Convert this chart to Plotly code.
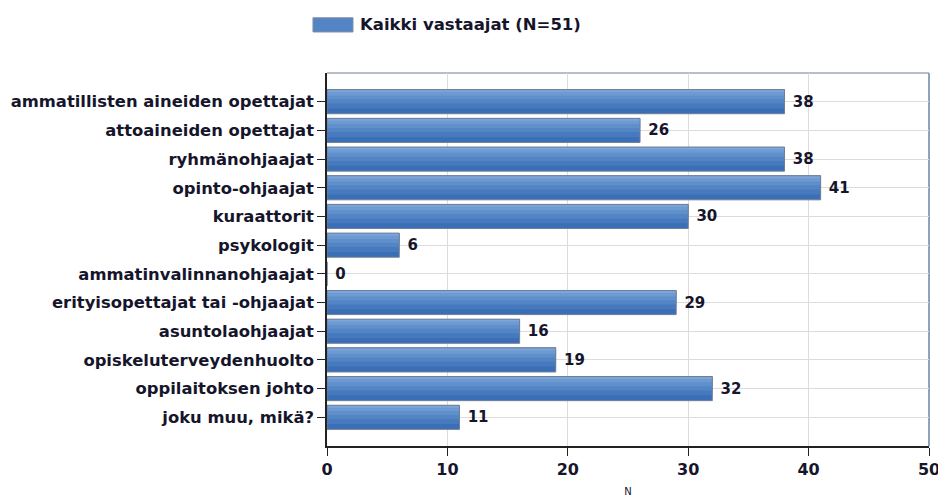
import plotly.graph_objects as go

# Data
categories = [
    "ammatillisten aineiden opettajat",
    "attoaineiden opettajat",
    "ryhmänohjaajat",
    "opinto-ohjaajat",
    "kuraattorit",
    "psykologit",
    "ammatinvalinnanohjaajat",
    "erityisopettajat tai -ohjaajat",
    "asuntolaohjaajat",
    "opiskeluterveydenhuolto",
    "oppilaitoksen johto",
    "joku muu, mikä?",
]
counts = [38, 26, 38, 41, 30, 6, 0, 29, 16, 19, 32, 11]
series_name = "Kaikki vastaajat (N=51)"
x_ticks = [0, 10, 20, 30, 40, 50]

TEXT = "#15152b"
FONT = "DejaVu Sans"
BAR_W = 0.84
BODY_MARGIN = 8  # default page margin of the html body shifts the figure

fig = go.Figure()

# Stacked stripes (dark -> light, bottom -> top) to fake the glossy gradient
stripes = [
    (1.00, "#3a6fb5"),
    (0.78, "#4679bd"),
    (0.58, "#5385c5"),
    (0.40, "#6090cc"),
    (0.24, "#6e9ad2"),
    (0.10, "#7ca5d9"),
]
for frac, color in stripes:
    fig.add_trace(go.Bar(
        y=categories,
        x=counts,
        orientation="h",
        width=BAR_W * frac,
        offset=-BAR_W / 2,
        marker=dict(color=color, line=dict(width=0)),
        showlegend=False,
        hoverinfo="skip",
    ))

# Outline + value labels
fig.add_trace(go.Bar(
    y=categories,
    x=counts,
    orientation="h",
    name=series_name,
    width=BAR_W,
    offset=-BAR_W / 2,
    marker=dict(color="rgba(0,0,0,0)", line=dict(color="#6f7f96", width=1)),
    text=counts,
    texttemplate=" %{text}",
    textposition="outside",
    textfont=dict(family=FONT, size=15, color=TEXT, weight="bold"),
    cliponaxis=False,
    showlegend=False,
))

fig.update_layout(
    width=946 - BODY_MARGIN,
    height=499 - BODY_MARGIN,
    barmode="overlay",
    paper_bgcolor="white",
    plot_bgcolor="white",
    font=dict(family=FONT, size=13, color=TEXT),
    margin=dict(l=327 - BODY_MARGIN, r=17, t=73 - BODY_MARGIN, b=53, autoexpand=False),
    showlegend=False,
)

fig.update_xaxes(
    range=[0, 50],
    tickvals=x_ticks,
    showgrid=True,
    gridcolor="#dcdcdc",
    zeroline=False,
    showline=True,
    linecolor="#222222",
    linewidth=1.5,
    ticks="outside",
    ticklen=8,
    tickcolor="#222222",
    tickfont=dict(family=FONT, size=16, color=TEXT, weight="bold"),
    title=dict(text="N", font=dict(family=FONT, size=10, color=TEXT), standoff=10),
)

fig.update_yaxes(
    categoryorder="array",
    categoryarray=categories,
    autorange=False,
    range=[len(categories), -1],
    showgrid=True,
    gridcolor="#dcdcdc",
    zeroline=False,
    showline=True,
    linecolor="#222222",
    linewidth=1.5,
    ticks="outside",
    ticklen=8,
    tickcolor="#222222",
    tickfont=dict(family=FONT, size=16.4, color=TEXT, weight="bold"),
)

# Grey frame on top and a blue-grey one on the right of the plot area
fig.add_shape(type="line", xref="paper", yref="paper", x0=0, x1=1, y0=1, y1=1,
              line=dict(color="#a0a8b4", width=1.5), layer="below")
fig.add_shape(type="line", xref="paper", yref="paper", x0=1, x1=1, y0=0, y1=1,
              line=dict(color="#8ea2ba", width=2), layer="below")

# Legend: wide swatch plus bold label
fig.add_shape(type="rect", xref="paper", yref="paper",
              x0=-0.0233, x1=0.0432, y0=1.110, y1=1.148,
              line=dict(color="#7f8fa6", width=1), fillcolor="#5385c5")
fig.add_annotation(text=series_name, xref="paper", yref="paper",
                   x=0.052, y=1.129, xanchor="left", yanchor="middle",
                   showarrow=False,
                   font=dict(family=FONT, size=16.5, color=TEXT, weight="bold"))

fig.write_html("out.html")
